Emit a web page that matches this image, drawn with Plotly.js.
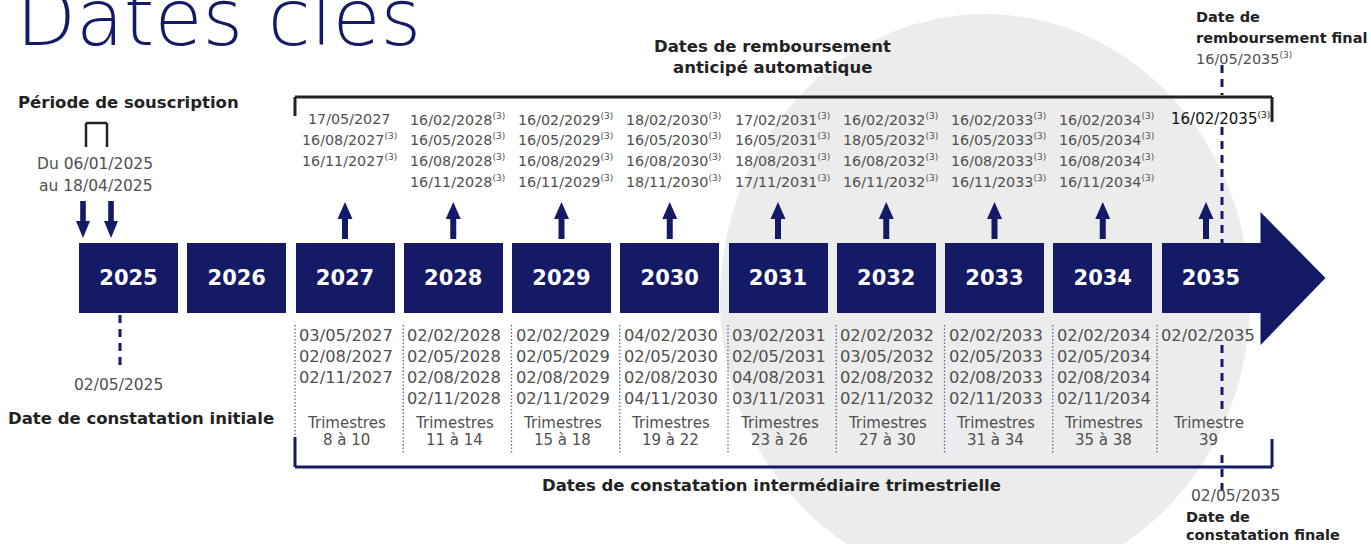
<!DOCTYPE html>
<html><head><meta charset="utf-8">
<script src="https://cdn.plot.ly/plotly-3.0.1.min.js"></script>
<style>html,body{margin:0;padding:0;background:#fff;}#chart{width:1371px;height:544px;}</style>
</head><body><div id="chart"></div>
<script>
// ---------- data ----------
const years = [2025, 2026, 2027, 2028, 2029, 2030, 2031, 2032, 2033, 2034, 2035];
const yearLabels = years.map(String);
const callYears = [2027, 2028, 2029, 2030, 2031, 2032, 2033, 2034, 2035];
const callDates = [
  ['17/05/2027', '16/08/2027(3)', '16/11/2027(3)'],
  ['16/02/2028(3)', '16/05/2028(3)', '16/08/2028(3)', '16/11/2028(3)'],
  ['16/02/2029(3)', '16/05/2029(3)', '16/08/2029(3)', '16/11/2029(3)'],
  ['18/02/2030(3)', '16/05/2030(3)', '16/08/2030(3)', '18/11/2030(3)'],
  ['17/02/2031(3)', '16/05/2031(3)', '18/08/2031(3)', '17/11/2031(3)'],
  ['16/02/2032(3)', '18/05/2032(3)', '16/08/2032(3)', '16/11/2032(3)'],
  ['16/02/2033(3)', '16/05/2033(3)', '16/08/2033(3)', '16/11/2033(3)'],
  ['16/02/2034(3)', '16/05/2034(3)', '16/08/2034(3)', '16/11/2034(3)'],
  ['16/02/2035(3)']
];
const obsDates = [
  ['03/05/2027', '02/08/2027', '02/11/2027'],
  ['02/02/2028', '02/05/2028', '02/08/2028', '02/11/2028'],
  ['02/02/2029', '02/05/2029', '02/08/2029', '02/11/2029'],
  ['04/02/2030', '02/05/2030', '02/08/2030', '04/11/2030'],
  ['03/02/2031', '02/05/2031', '04/08/2031', '03/11/2031'],
  ['02/02/2032', '03/05/2032', '02/08/2032', '02/11/2032'],
  ['02/02/2033', '02/05/2033', '02/08/2033', '02/11/2033'],
  ['02/02/2034', '02/05/2034', '02/08/2034', '02/11/2034'],
  ['02/02/2035']
];
const quarterRanges = ['8 à 10', '11 à 14', '15 à 18', '19 à 22', '23 à 26', '27 à 30', '31 à 34', '35 à 38', '39'];
const subscriptionLines = ['Du 06/01/2025', 'au 18/04/2025'];
const initialDate = '02/05/2025';
const finalObsDate = '02/05/2035';
const finalRedemptionDate = '16/05/2035(3)';

// ---------- layout helpers (pixel geometry) ----------
const X0PX = 128.5, PXPERYEAR = 108.25, BOX_W = 99;
const px = p => years[0] + (p - X0PX) / PXPERYEAR;
const pw = p => p / PXPERYEAR;
const NAVY = '#141a66', DARK = '#222222', GREY = '#505050';
const FONT = 'DejaVu Sans';
const sup = s => s.replace('(3)', '<sup><span style="font-size:9px">(3)</span></sup>');

const shapes = [], ann = [];
function txt(x, y, text, o) {
  o = o || {};
  ann.push({x: x, y: y, xref: 'x', yref: 'y', text: text, showarrow: false,
    xanchor: o.xa || 'center', yanchor: 'middle', align: o.align || 'center', borderpad: 0,
    font: {family: FONT, size: o.size || 15, color: o.color || GREY, weight: o.weight || 'normal'}});
}
function line(x0, y0, x1, y1, color, width, dash) {
  shapes.push({type: 'line', xref: 'x', yref: 'y', x0: x0, y0: y0, x1: x1, y1: y1,
    line: {color: color, width: width, dash: dash || 'solid'}});
}
function path(d, color) {
  shapes.push({type: 'path', xref: 'x', yref: 'y', path: d, fillcolor: color, line: {width: 0}});
}

// background ellipse
shapes.push({type: 'circle', xref: 'x', yref: 'y', x0: px(720), x1: px(1250), y0: 14, y1: 586,
  fillcolor: '#ececec', line: {width: 0}, layer: 'below'});

// big arrow head after last year box
const lastYear = years[years.length - 1];
const edge = lastYear + pw(BOX_W) / 2;
path(`M ${edge} 212 L ${edge + pw(65)} 278 L ${edge} 345 Z`, NAVY);

// up arrows
callYears.forEach((yr, i) => {
  const cx = yr + (i === callYears.length - 1 ? pw(-5) : 0);
  const a = pw(3), b = pw(7.5);
  path(`M ${cx - a} 239 L ${cx - a} 219 L ${cx - b} 219 L ${cx} 202 L ${cx + b} 219 L ${cx + a} 219 L ${cx + a} 239 Z`, NAVY);
});
// down arrows (subscription)
[83, 111].forEach(p => {
  const cx = px(p), a = pw(2.8), b = pw(7);
  path(`M ${cx - a} 201 L ${cx - a} 221 L ${cx - b} 221 L ${cx} 238 L ${cx + b} 221 L ${cx + a} 221 L ${cx + a} 201 Z`, NAVY);
});
// subscription bracket
line(px(86), 147, px(86), 123, DARK, 2.5);
line(px(86), 123, px(107), 123, DARK, 2.5);
line(px(107), 123, px(107), 147, DARK, 2.5);
// initial observation dashed line
line(px(120), 315, px(120), 369, NAVY, 3, '8px,6px');

// top bracket
const brL = callYears[0] - pw(50), brR = px(1272);
line(brL, 116, brL, 97, DARK, 3);
line(brL, 97, brR, 97, DARK, 3);
line(brR, 97, brR, 122, DARK, 3);
// bottom bracket
line(brL, 437, brL, 467, NAVY, 3);
line(brL, 467, brR, 467, NAVY, 3);
line(brR, 467, brR, 439, NAVY, 3);
// dotted separators
callYears.forEach((yr, i) => {
  const x = yr - pw(i === callYears.length - 1 ? 54 : 50);
  line(x, 325, x, i === 0 ? 437 : 453, '#5b64a6', 1.3, '1.5px,2px');
});
// final dashed line
const xf = px(1222);
[[65, 95], [127, 243], [345, 412], [455, 492]].forEach(s => line(xf, s[0], xf, s[1], NAVY, 3, '8px,6px'));

// ---------- texts ----------
const topRows = [119, 139, 160, 181], botRows = [335, 356, 377, 398];
callYears.forEach((yr, i) => {
  const last = i === callYears.length - 1;
  callDates[i].forEach((d, r) => txt(yr + pw(last ? 9 : 4), topRows[r], sup(d),
    {size: last ? 15 : 14.3, color: last ? '#111111' : GREY}));
  obsDates[i].forEach((d, r) => txt(yr + pw(last ? -3 : 1), botRows[r], d, {size: 16.3}));
  const q = quarterRanges[i];
  txt(yr + pw(last ? -3 : 1), 423, q.indexOf(' à ') >= 0 ? 'Trimestres' : 'Trimestre', {size: 15});
  txt(yr + pw(last ? -3 : 1), 440, q, {size: 15});
});

txt(px(128), 102, 'Période de souscription', {size: 16.5, weight: 'bold', color: DARK});
txt(px(154), 164, subscriptionLines[0], {size: 15.5, xa: 'right'});
txt(px(154), 186, subscriptionLines[1], {size: 15.5, xa: 'right'});
txt(px(118), 385, initialDate, {size: 15.5});
txt(px(141), 418, 'Date de constatation initiale', {size: 16.5, weight: 'bold', color: DARK});

txt(px(772), 46, 'Dates de remboursement', {size: 16.5, weight: 'bold', color: DARK});
txt(px(772), 67, 'anticipé automatique', {size: 16.5, weight: 'bold', color: DARK});
txt(px(771), 485, 'Dates de constatation intermédiaire trimestrielle', {size: 16.5, weight: 'bold', color: DARK});

txt(px(1195), 17, 'Date de', {size: 14.5, weight: 'bold', color: DARK, xa: 'left'});
txt(px(1195), 38, 'remboursement final', {size: 14.5, weight: 'bold', color: DARK, xa: 'left'});
txt(px(1195), 58, sup(finalRedemptionDate), {size: 14.5, xa: 'left'});
txt(px(1190), 496, finalObsDate, {size: 15.5, xa: 'left'});
txt(px(1185), 517, 'Date de', {size: 14.5, weight: 'bold', color: DARK, xa: 'left'});
txt(px(1185), 535, 'constatation finale', {size: 14.5, weight: 'bold', color: DARK, xa: 'left'});

// ---------- traces ----------
const boxes = {
  type: 'bar', x: years, y: years.map(() => 70), base: 243, width: pw(BOX_W),
  marker: {color: NAVY, line: {width: 0}},
  text: yearLabels, textposition: 'inside', insidetextanchor: 'middle', constraintext: 'none',
  textangle: 0, textfont: {family: FONT, size: 21, color: '#ffffff', weight: 'bold'},
  hoverinfo: 'skip', showlegend: false
};

const layout = {
  width: 1371, height: 544, margin: {l: 0, r: 0, t: 0, b: 0},
  paper_bgcolor: '#ffffff', plot_bgcolor: '#ffffff', showlegend: false,
  title: {text: 'Dates clés', xref: 'container', yref: 'container', x: 16 / 1371, xanchor: 'left',
    y: 1 - 45 / 544, yanchor: 'bottom', pad: {t: 0, b: 0, l: 0, r: 0},
    font: {family: FONT, size: 78, color: NAVY, weight: 200}},
  xaxis: {range: [px(0), px(1371)], visible: false, fixedrange: true},
  yaxis: {range: [544, 0], visible: false, fixedrange: true},
  shapes: shapes, annotations: ann, bargap: 0
};
Plotly.newPlot('chart', [boxes], layout, {staticPlot: true, displayModeBar: false});
</script></body></html>
